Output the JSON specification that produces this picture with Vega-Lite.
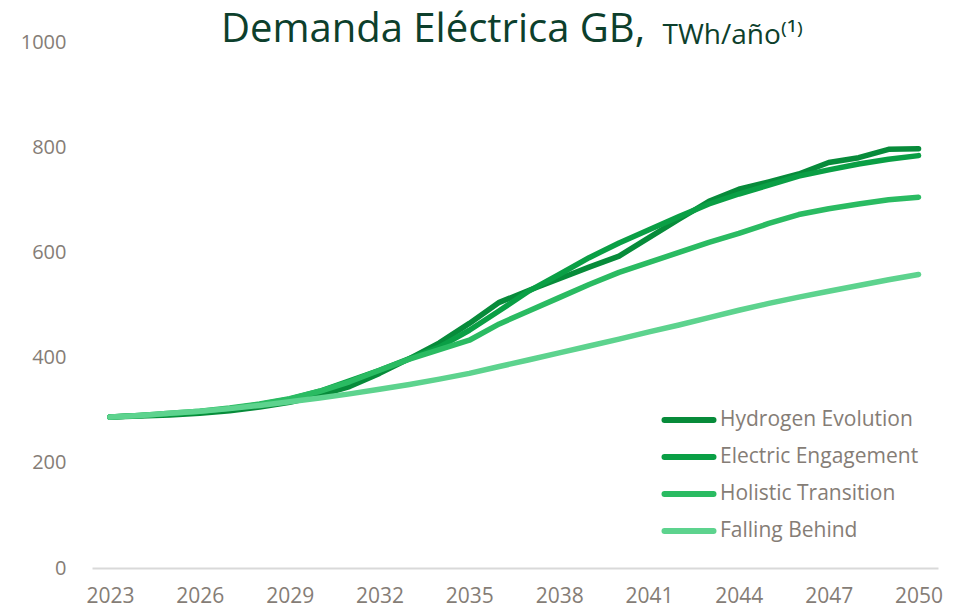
{
  "$schema": "https://vega.github.io/schema/vega-lite/v6.json",
  "width": 846,
  "height": 526,
  "autosize": {"type": "none"},
  "padding": {"left": 92, "top": 42, "right": 18, "bottom": 42},
  "background": "white",
  "config": {
    "font": "Open Sans",
    "view": {"stroke": null}
  },
  "title": {
    "text": "Demanda Eléctrica GB,",
    "anchor": "start",
    "frame": "group",
    "dx": 129,
    "dy": 61,
    "offset": 0,
    "baseline": "alphabetic",
    "fontSize": 40,
    "fontWeight": "normal",
    "color": "#0d3f2c",
    "font": "Open Sans"
  },
  "data": {
    "values": [
      {"year": 2023, "Hydrogen Evolution": 287, "Electric Engagement": 287, "Holistic Transition": 287, "Falling Behind": 287},
      {"year": 2024, "Hydrogen Evolution": 289, "Electric Engagement": 290, "Holistic Transition": 290, "Falling Behind": 290},
      {"year": 2025, "Hydrogen Evolution": 291, "Electric Engagement": 293, "Holistic Transition": 294, "Falling Behind": 294},
      {"year": 2026, "Hydrogen Evolution": 294, "Electric Engagement": 297, "Holistic Transition": 298, "Falling Behind": 298},
      {"year": 2027, "Hydrogen Evolution": 299, "Electric Engagement": 303, "Holistic Transition": 304, "Falling Behind": 303},
      {"year": 2028, "Hydrogen Evolution": 306, "Electric Engagement": 311, "Holistic Transition": 312, "Falling Behind": 309},
      {"year": 2029, "Hydrogen Evolution": 315, "Electric Engagement": 321, "Holistic Transition": 322, "Falling Behind": 316},
      {"year": 2030, "Hydrogen Evolution": 328, "Electric Engagement": 336, "Holistic Transition": 336, "Falling Behind": 323},
      {"year": 2031, "Hydrogen Evolution": 345, "Electric Engagement": 356, "Holistic Transition": 354, "Falling Behind": 331},
      {"year": 2032, "Hydrogen Evolution": 370, "Electric Engagement": 376, "Holistic Transition": 376, "Falling Behind": 340},
      {"year": 2033, "Hydrogen Evolution": 398, "Electric Engagement": 398, "Holistic Transition": 397, "Falling Behind": 349},
      {"year": 2034, "Hydrogen Evolution": 428, "Electric Engagement": 420, "Holistic Transition": 415, "Falling Behind": 359},
      {"year": 2035, "Hydrogen Evolution": 465, "Electric Engagement": 452, "Holistic Transition": 433, "Falling Behind": 370},
      {"year": 2036, "Hydrogen Evolution": 505, "Electric Engagement": 489, "Holistic Transition": 464, "Falling Behind": 383},
      {"year": 2037, "Hydrogen Evolution": 528, "Electric Engagement": 527, "Holistic Transition": 489, "Falling Behind": 396},
      {"year": 2038, "Hydrogen Evolution": 550, "Electric Engagement": 558, "Holistic Transition": 514, "Falling Behind": 409},
      {"year": 2039, "Hydrogen Evolution": 572, "Electric Engagement": 590, "Holistic Transition": 539, "Falling Behind": 422},
      {"year": 2040, "Hydrogen Evolution": 593, "Electric Engagement": 618, "Holistic Transition": 562, "Falling Behind": 435},
      {"year": 2041, "Hydrogen Evolution": 628, "Electric Engagement": 643, "Holistic Transition": 581, "Falling Behind": 449},
      {"year": 2042, "Hydrogen Evolution": 663, "Electric Engagement": 668, "Holistic Transition": 600, "Falling Behind": 462},
      {"year": 2043, "Hydrogen Evolution": 697, "Electric Engagement": 692, "Holistic Transition": 619, "Falling Behind": 476},
      {"year": 2044, "Hydrogen Evolution": 720, "Electric Engagement": 711, "Holistic Transition": 636, "Falling Behind": 490},
      {"year": 2045, "Hydrogen Evolution": 734, "Electric Engagement": 728, "Holistic Transition": 655, "Falling Behind": 503},
      {"year": 2046, "Hydrogen Evolution": 749, "Electric Engagement": 745, "Holistic Transition": 672, "Falling Behind": 515},
      {"year": 2047, "Hydrogen Evolution": 771, "Electric Engagement": 757, "Holistic Transition": 683, "Falling Behind": 526},
      {"year": 2048, "Hydrogen Evolution": 780, "Electric Engagement": 768, "Holistic Transition": 692, "Falling Behind": 537},
      {"year": 2049, "Hydrogen Evolution": 796, "Electric Engagement": 777, "Holistic Transition": 700, "Falling Behind": 548},
      {"year": 2050, "Hydrogen Evolution": 797, "Electric Engagement": 784, "Holistic Transition": 705, "Falling Behind": 558}
    ]
  },
  "transform": [
    {"fold": ["Hydrogen Evolution", "Electric Engagement", "Holistic Transition", "Falling Behind"], "as": ["series", "value"]}
  ],
  "mark": {"type": "line", "strokeWidth": 5.5, "strokeCap": "round", "strokeJoin": "round"},
  "encoding": {
    "x": {
      "field": "year",
      "type": "quantitative",
      "scale": {"domain": [2022.4, 2050.65], "nice": false, "zero": false},
      "axis": {
        "values": [2023, 2026, 2029, 2032, 2035, 2038, 2041, 2044, 2047, 2050],
        "format": "d",
        "title": null,
        "grid": false,
        "ticks": false,
        "domain": true,
        "domainColor": "#d9d9d9",
        "domainWidth": 2,
        "labelFont": "Open Sans",
        "labelFontSize": 21,
        "labelColor": "#857d76",
        "labelPadding": 17,
        "labelFlush": false
      }
    },
    "y": {
      "field": "value",
      "type": "quantitative",
      "scale": {"domain": [0, 1000], "nice": false},
      "axis": {
        "values": [0, 200, 400, 600, 800, 1000],
        "format": "d",
        "grid": false,
        "ticks": false,
        "domain": false,
        "labelFont": "Open Sans",
        "labelFontSize": 20,
        "labelColor": "#857d76",
        "labelPadding": 26,
        "title": "TWh/año⁽¹⁾",
        "titleAngle": 0,
        "titleX": 570,
        "titleY": 1,
        "titleAlign": "left",
        "titleBaseline": "alphabetic",
        "titleFont": "Open Sans",
        "titleFontSize": 28,
        "titleFontWeight": "normal",
        "titleColor": "#0d3f2c"
      }
    },
    "color": {
      "field": "series",
      "type": "nominal",
      "sort": ["Hydrogen Evolution", "Electric Engagement", "Holistic Transition", "Falling Behind"],
      "scale": {
        "domain": ["Hydrogen Evolution", "Electric Engagement", "Holistic Transition", "Falling Behind"],
        "range": ["#078b3a", "#0a9f45", "#2abb62", "#5dd38e"]
      },
      "legend": {
        "title": null,
        "orient": "none",
        "legendX": 578,
        "legendY": 359,
        "symbolType": "M-1.55,0L1.55,0",
        "symbolSize": 1000,
        "symbolStrokeWidth": 6,
        "symbolFillColor": "transparent",
        "labelFont": "Open Sans",
        "labelFontSize": 21,
        "labelColor": "#857d76",
        "labelOffset": 12,
        "labelLimit": 400,
        "rowPadding": 6,
        "encode": {"symbols": {"update": {"strokeCap": {"value": "round"}}}}
      }
    }
  }
}
